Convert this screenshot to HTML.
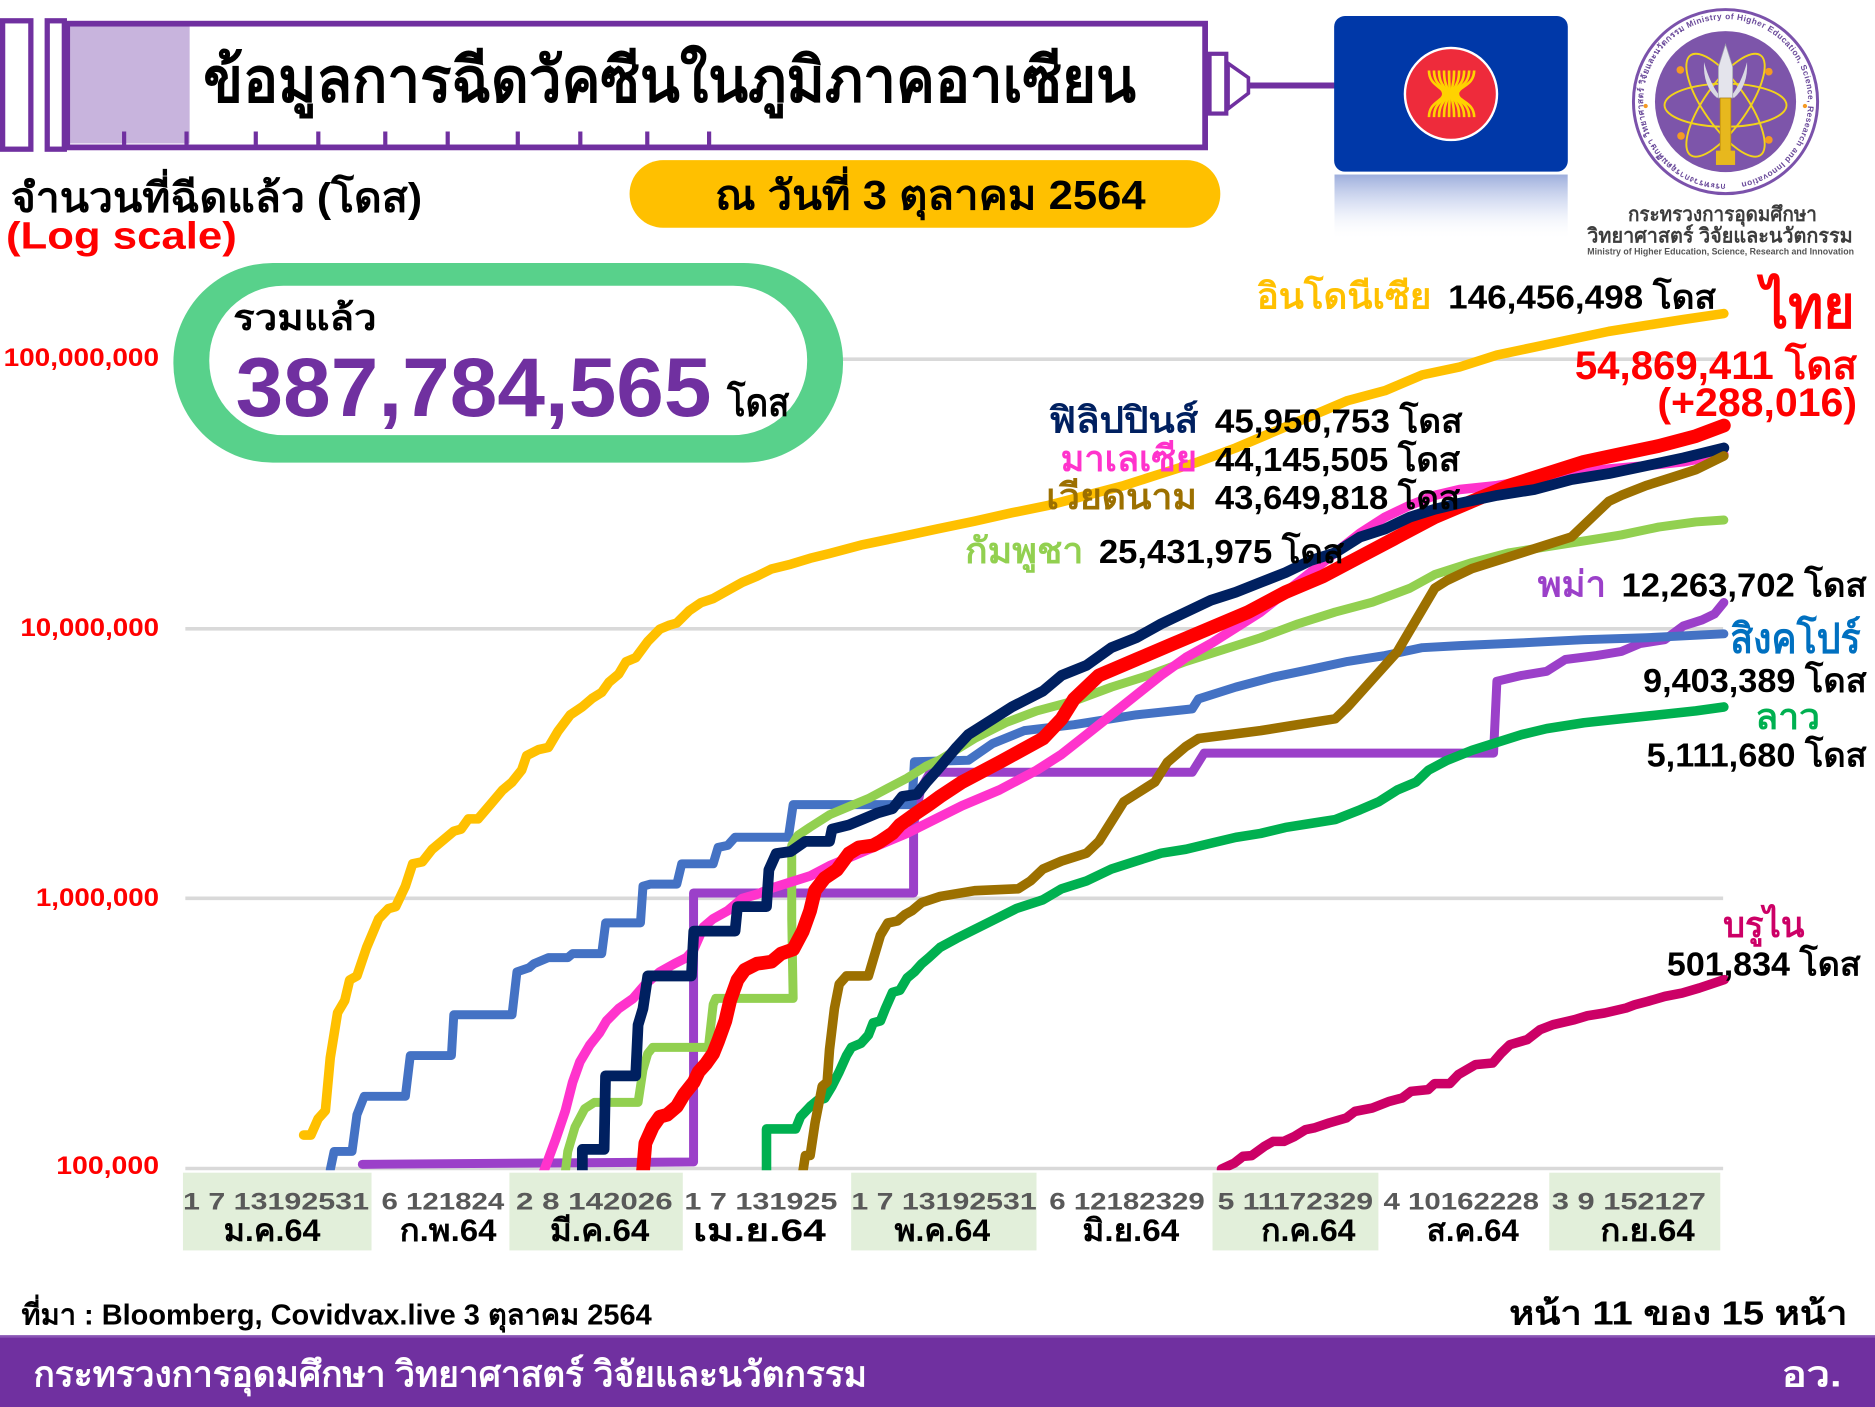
<!DOCTYPE html>
<html><head><meta charset="utf-8">
<style>
html,body{margin:0;padding:0;background:#fff;width:1875px;height:1407px;overflow:hidden}
svg{display:block}
text{font-family:"Liberation Sans","DejaVu Sans","Noto Sans CJK SC",sans-serif;font-weight:bold}
</style></head>
<body>
<svg width="1875" height="1407" viewBox="0 0 1568 1177" preserveAspectRatio="none" xmlns="http://www.w3.org/2000/svg">
<defs>
<linearGradient id="refl" x1="0" y1="0" x2="0" y2="1">
<stop offset="0" stop-color="#7d93d0" stop-opacity="0.75"/>
<stop offset="0.5" stop-color="#c5d0ee" stop-opacity="0.5"/>
<stop offset="1" stop-color="#ffffff" stop-opacity="0"/>
</linearGradient>
<clipPath id="plot"><rect x="150" y="200" width="1300" height="779"/></clipPath>
<path id="ring" d="M1443,154 A69,69 0 1,1 1443.1,154"/>
</defs>
<rect x="0" y="0" width="1568" height="1177" fill="#fff"/>

<!-- Syringe header -->
<rect x="56" y="22" width="102.6" height="98" fill="#c8b4dd"/>
<rect x="2.2" y="17.4" width="23.6" height="107.4" fill="none" stroke="#7030a0" stroke-width="4.4"/>
<rect x="39.5" y="17.4" width="14.3" height="107.4" fill="none" stroke="#7030a0" stroke-width="4.4"/>
<rect x="56.2" y="19.8" width="951.6" height="103.5" fill="none" stroke="#7030a0" stroke-width="4.8"/>
<g stroke="#7030a0" stroke-width="3.5">
<line x1="103.8" y1="110" x2="103.8" y2="121"/><line x1="156" y1="110" x2="156" y2="121"/>
<line x1="213.9" y1="110" x2="213.9" y2="121"/><line x1="266.2" y1="110" x2="266.2" y2="121"/>
<line x1="322.2" y1="110" x2="322.2" y2="121"/><line x1="374.4" y1="110" x2="374.4" y2="121"/>
<line x1="433" y1="110" x2="433" y2="121"/><line x1="485.3" y1="110" x2="485.3" y2="121"/>
<line x1="541.3" y1="110" x2="541.3" y2="121"/><line x1="593" y1="110" x2="593" y2="121"/>
</g>
<rect x="1011.5" y="45" width="14" height="50" fill="#fff" stroke="#7030a0" stroke-width="3.5"/>
<polygon points="1027,53 1044,65 1044,78 1027,91" fill="#fff" stroke="#7030a0" stroke-width="3"/>
<line x1="1044" y1="71.5" x2="1117" y2="71.5" stroke="#7030a0" stroke-width="5"/>
<text x="170" y="85" font-size="52" fill="#000" textLength="780" lengthAdjust="spacingAndGlyphs">ข้อมูลการฉีดวัคซีนในภูมิภาคอาเซียน</text>

<!-- ASEAN flag -->
<rect x="1116" y="146" width="195" height="55" fill="url(#refl)"/>
<rect x="1115.7" y="13.4" width="195.4" height="130.2" rx="9" fill="#0038a8"/>
<circle cx="1213.4" cy="78.6" r="38.5" fill="#ee2b3b" stroke="#fff" stroke-width="2"/>
<g fill="none" stroke="#ffd200" stroke-width="2.2">
<path d="M1195,59 C1195,72 1207,72 1207,78.5 C1207,85 1195,85 1195,98"/>
<path d="M1199.2,59 C1199.2,72 1208.4,72 1208.4,78.5 C1208.4,85 1199.2,85 1199.2,98"/>
<path d="M1203.4,59 C1203.4,72 1209.7,72 1209.7,78.5 C1209.7,85 1203.4,85 1203.4,98"/>
<path d="M1207.6,59 C1207.6,72 1211.1,72 1211.1,78.5 C1211.1,85 1207.6,85 1207.6,98"/>
<path d="M1211.8,59 C1211.8,72 1212.4,72 1212.4,78.5 C1212.4,85 1211.8,85 1211.8,98"/>
<path d="M1216,59 C1216,72 1213.8,72 1213.8,78.5 C1213.8,85 1216,85 1216,98"/>
<path d="M1220.2,59 C1220.2,72 1215.1,72 1215.1,78.5 C1215.1,85 1220.2,85 1220.2,98"/>
<path d="M1224.4,59 C1224.4,72 1216.5,72 1216.5,78.5 C1216.5,85 1224.4,85 1224.4,98"/>
<path d="M1228.6,59 C1228.6,72 1217.8,72 1217.8,78.5 C1217.8,85 1228.6,85 1228.6,98"/>
<path d="M1232.8,59 C1232.8,72 1219.2,72 1219.2,78.5 C1219.2,85 1232.8,85 1232.8,98"/>
</g>

<!-- Ministry logo -->
<circle cx="1443" cy="85" r="77" fill="#fff" stroke="#7b52ab" stroke-width="2.5"/>
<text font-size="7" fill="#6a4a9a" font-weight="normal"><textPath href="#ring" textLength="420">กระทรวงการอุดมศึกษา วิทยาศาสตร์ วิจัยและนวัตกรรม Ministry of Higher Education, Science, Research and Innovation</textPath></text>
<circle cx="1443" cy="85" r="59" fill="#7d55aa"/>
<g fill="none" stroke="#f2d31b" stroke-width="1.6">
<ellipse cx="1443" cy="88" rx="51" ry="18"/>
<ellipse cx="1443" cy="88" rx="51" ry="18" transform="rotate(55 1443 88)"/>
<ellipse cx="1443" cy="88" rx="51" ry="18" transform="rotate(-55 1443 88)"/>
</g>
<g fill="#f59a23">
<circle cx="1405.2" cy="58.5" r="3.2"/><circle cx="1479.2" cy="60" r="3.2"/>
<circle cx="1405.8" cy="113.7" r="3.2"/><circle cx="1479.2" cy="117" r="3.2"/>
<circle cx="1376.2" cy="88.7" r="1.8"/><circle cx="1509.4" cy="88.7" r="1.8"/>
</g>
<path d="M1425,52 Q1424,72 1436,82 L1438,80 Q1430,70 1425,52 Z" fill="#d9d9e3"/>
<path d="M1461,52 Q1462,72 1450,82 L1448,80 Q1456,70 1461,52 Z" fill="#d9d9e3"/>
<polygon points="1443,37 1449,56 1449,82 1437,82 1437,56" fill="#e4e4ec" stroke="#9a9aaa" stroke-width="0.6"/>
<rect x="1438.5" y="82" width="9" height="52" fill="#e7b81e" stroke="#b8860b" stroke-width="0.6"/>
<rect x="1435" y="126" width="16" height="12" fill="#e7b81e"/>
<text x="1361.4" y="185" font-size="17" fill="#3d3d3d" font-weight="normal" textLength="158" lengthAdjust="spacingAndGlyphs">กระทรวงการอุดมศึกษา</text>
<text x="1327.4" y="203" font-size="17" fill="#3d3d3d" font-weight="normal" textLength="222" lengthAdjust="spacingAndGlyphs">วิทยาศาสตร์ วิจัยและนวัตกรรม</text>
<text x="1327.4" y="213" font-size="8" fill="#555" font-weight="normal" textLength="223" lengthAdjust="spacingAndGlyphs">Ministry of Higher Education, Science, Research and Innovation</text>

<!-- Headings -->
<text x="9" y="177" font-size="34" fill="#000" textLength="344" lengthAdjust="spacingAndGlyphs">จำนวนที่ฉีดแล้ว (โดส)</text>
<text x="5" y="208" font-size="32" fill="#ff0000" textLength="193" lengthAdjust="spacingAndGlyphs">(Log scale)</text>
<rect x="526.5" y="134" width="494" height="56.5" rx="28" fill="#ffc000"/>
<text x="598" y="175" font-size="34" fill="#000" textLength="360" lengthAdjust="spacingAndGlyphs">ณ วันที่ 3 ตุลาคม 2564</text>

<!-- Gridlines -->
<g stroke="#d9d9d9" stroke-width="3">
<line x1="155" y1="300.5" x2="1441" y2="300.5"/>
<line x1="155" y1="526" x2="1441" y2="526"/>
<line x1="155" y1="751.5" x2="1441" y2="751.5"/>
<line x1="155" y1="977.5" x2="1441" y2="977.5"/>
</g>

<!-- Total pill -->
<rect x="145" y="220" width="560" height="167" rx="83" fill="#58d18b"/>
<rect x="175" y="239" width="500" height="125" rx="62" fill="#fff"/>
<text x="195" y="276" font-size="30" fill="#000" textLength="120" lengthAdjust="spacingAndGlyphs">รวมแล้ว</text>
<text x="197" y="348" font-size="70" fill="#7030a0" textLength="398" lengthAdjust="spacingAndGlyphs">387,784,565</text>
<text x="608" y="348" font-size="32" fill="#000" textLength="52" lengthAdjust="spacingAndGlyphs">โดส</text>

<!-- Y labels -->
<g fill="#ff0000" font-size="21" font-weight="normal">
<text x="3" y="306" textLength="130" lengthAdjust="spacingAndGlyphs">100,000,000</text>
<text x="17" y="532" textLength="116" lengthAdjust="spacingAndGlyphs">10,000,000</text>
<text x="30" y="758" textLength="103" lengthAdjust="spacingAndGlyphs">1,000,000</text>
<text x="47" y="982" textLength="86" lengthAdjust="spacingAndGlyphs">100,000</text>
</g>

<!-- X axis bands -->
<g fill="#e2efda">
<rect x="153" y="981" width="157.7" height="65"/>
<rect x="426" y="981" width="145" height="65"/>
<rect x="711.8" y="981" width="155" height="65"/>
<rect x="1014" y="981" width="138.7" height="65"/>
<rect x="1295.6" y="981" width="143" height="65"/>
</g>
<g fill="#595959" font-size="20">
<text x="153" y="1012" textLength="155.6" lengthAdjust="spacingAndGlyphs">1  7 13192531</text>
<text x="319" y="1012" textLength="102.7" lengthAdjust="spacingAndGlyphs">6 121824</text>
<text x="431.5" y="1012" textLength="131" lengthAdjust="spacingAndGlyphs">2  8 142026</text>
<text x="572.3" y="1012" textLength="128" lengthAdjust="spacingAndGlyphs">1  7 131925</text>
<text x="712" y="1012" textLength="155" lengthAdjust="spacingAndGlyphs">1  7 13192531</text>
<text x="877.5" y="1012" textLength="130" lengthAdjust="spacingAndGlyphs">6 12182329</text>
<text x="1018.3" y="1012" textLength="130" lengthAdjust="spacingAndGlyphs">5 11172329</text>
<text x="1157" y="1012" textLength="130" lengthAdjust="spacingAndGlyphs">4 10162228</text>
<text x="1297.8" y="1012" textLength="128.8" lengthAdjust="spacingAndGlyphs">3  9 152127</text>
</g>
<g fill="#000" font-size="26">
<text x="187" y="1038" textLength="81" lengthAdjust="spacingAndGlyphs">ม.ค.64</text>
<text x="334.2" y="1038" textLength="81" lengthAdjust="spacingAndGlyphs">ก.พ.64</text>
<text x="460" y="1038" textLength="83" lengthAdjust="spacingAndGlyphs">มี.ค.64</text>
<text x="579.6" y="1038" textLength="111" lengthAdjust="spacingAndGlyphs">เม.ย.64</text>
<text x="748" y="1038" textLength="80" lengthAdjust="spacingAndGlyphs">พ.ค.64</text>
<text x="905.2" y="1038" textLength="81" lengthAdjust="spacingAndGlyphs">มิ.ย.64</text>
<text x="1054.6" y="1038" textLength="79" lengthAdjust="spacingAndGlyphs">ก.ค.64</text>
<text x="1193.2" y="1038" textLength="77" lengthAdjust="spacingAndGlyphs">ส.ค.64</text>
<text x="1338.3" y="1038" textLength="79" lengthAdjust="spacingAndGlyphs">ก.ย.64</text>
</g>

<!-- Series -->
<g clip-path="url(#plot)" fill="none" stroke-linejoin="round" stroke-linecap="round">
<polyline stroke="#9b40c9" stroke-width="7.5" points="303,974 578,972 580,972 580,747 764,747 764,690 770,660 778,646 997,646 1007,630 1249,630 1251.8,569.9 1272.6,565 1293.4,561.6 1309,551.7 1335,548.4 1355.8,545 1371.4,538.4 1392.2,535.1 1407.8,523.6 1423.4,518.6 1433.8,513.6 1441.6,504"/>
<polyline stroke="#4472c4" stroke-width="7.5" points="276.2,979 276.2,978.5 279.4,963.2 294.4,963.2 298.5,932.5 304.6,917.1 339,917.1 343.1,883 377.5,883 379.5,848.9 428.2,848.9 432.3,813 442.4,809.6 446.4,806.2 458.6,801.1 474.8,801.1 478.9,797.7 503.2,797.7 506.5,772 535.6,772 537.7,741.3 543.7,739.6 566,739.6 570.1,722.6 596.4,722.6 600.5,708.9 608.6,707.2 614.7,700.4 659.3,700.4 663.3,673.1 762.7,673.1 764.7,637.2 809.8,636 830,622 856.6,611.2 898.2,606.2 950.2,598 997,593 1002.2,584.7 1033.4,574.8 1064.6,566.5 1095.8,560 1127,553.3 1158.2,548.4 1189.4,541.8 1220.6,540.1 1272.6,537.8 1324.6,535.1 1376.6,533.5 1441.6,530.2"/>
<polyline stroke="#92d050" stroke-width="7.5" points="472.8,980.3 474.8,963.2 480.9,942.7 489,927.4 497.1,922.2 533.6,922.2 537.7,895 541.7,881.3 545.8,876.2 592.4,876.2 596.4,840.3 598.5,835.2 663.3,835.2 662.1,768.6 662.1,707.2 667.4,698.7 677.5,691.9 693.7,681.6 709.9,674.8 726.2,668 742.4,659.4 758.6,650.9 774.8,640.7 786.2,635.5 815,617.8 841,604.6 867,594.7 898.2,586.4 929.4,574.8 960.6,564.9 991.8,553.3 1023,543.4 1054.2,533.5 1085.4,521.9 1116.6,512 1147.8,503.7 1179,492.1 1199.8,480.6 1231,470.6 1262.2,462.4 1293.4,457.4 1324.6,452.5 1355.8,447.5 1387,440.9 1418.2,436.6 1441.6,435"/>
<polyline stroke="#00b050" stroke-width="8" points="641,980.3 641,944.4 665.3,944.4 669.4,934.2 677.5,925.6 683.6,920.5 689.7,918.8 695.8,908.6 701.8,896.6 707.9,883 712,876.2 720.1,872.7 726.2,865.9 730.2,855.7 736.3,854 740.4,843.7 746.4,830.1 752.5,828.4 758.6,818.1 764.7,813 770.8,806.2 776.8,801.1 786.2,792.5 800,785 830,770 850,760 872.2,752.7 887.8,743.5 908.6,736.9 929.4,727 950.2,720.3 971,713.7 991.8,710.4 1012.6,705.4 1033.4,700.5 1054.2,697.2 1075,692.2 1095.8,688.9 1116.6,685.6 1137.4,677.4 1153,670.7 1168.6,660.8 1184.2,654.2 1194.6,644.3 1210.2,636 1231,627.7 1251.8,621.1 1272.6,614.5 1293.4,609.5 1324.6,604.6 1355.8,601.3 1387,598 1418.2,594.7 1441.6,591.4"/>
<polyline stroke="#ff33cc" stroke-width="8" points="454.6,980.3 464.7,953 472.8,929.1 478.9,905.2 485,888.1 493.1,874.4 501.2,864.2 507.2,854 517.4,843.7 529.5,835.2 539.7,823.3 551.8,813 564,806.2 574.1,801.1 580.2,794.2 588.3,775.5 596.4,768.6 608.6,761.8 620.8,751.6 632.9,748.2 645.1,743 661.3,737.9 677.5,732.8 693.7,724.3 709.9,717.5 726.2,710.6 742.4,703.8 758.6,697 768.2,692.2 804.6,674 835.8,660.8 867,644.3 887.8,631 908.6,614.5 929.4,598 950.2,581.4 971,564.9 991.8,550 1012.6,538.4 1033.4,525.2 1054.2,512 1075,495.4 1095.8,479 1116.6,462.4 1137.4,446 1158.2,432.6 1179,422.7 1199.8,414.4 1220.6,409.5 1251.8,406.2 1283,401.2 1314.2,396.2 1345.4,392.3 1376.6,389.6 1407.8,386.3 1441.6,380"/>
<polyline stroke="#ff0000" stroke-width="11.5" points="537.7,980.3 539.7,956.4 545.8,942.7 551.8,934.2 557.9,932.5 566,925.6 572.1,915.4 580.2,905.2 584.3,896.6 590.4,889.8 596.4,881.3 600.5,871 606.6,854 610.6,836.9 616.7,819.8 622.8,811.3 632.9,806.2 645.1,804.5 653.2,797.7 663.3,794.2 671.4,778.9 677.5,761.8 681.6,744.8 689.7,734.5 699.8,727.7 709.9,714 718.1,708.9 730.2,707.2 736.3,703.8 746.4,697 752.6,690 766.7,679.9 776.8,673.1 786.2,666.3 804.6,654.2 835.8,637.7 872.2,617.8 887.8,601.3 898.2,584.7 919,565 950.2,551.7 981.4,538.4 1012.6,525.2 1043.8,512 1075,495.4 1106.2,482.2 1137.4,465.7 1168.6,449.2 1199.8,432.6 1231,419.4 1262.2,406.2 1293.4,396.2 1324.6,386.3 1355.8,379.7 1387,373.1 1418.2,364.8 1441.6,356"/>
<polyline stroke="#002060" stroke-width="9" points="487,980 487,961.5 505.2,961.5 506.4,900 531.6,900 533.6,857.4 537.7,843.7 541.7,816.4 578.2,816.4 580.2,778.9 614.7,778.9 616.7,758.4 641,758.4 643,727.7 649.1,714 661.3,712.3 673.5,703.8 693.7,703.8 695.8,693.6 709.9,690.1 722.1,685 734.3,679.9 746.4,676.5 754.5,666.3 766.7,664.5 774.8,654.3 783.8,644.3 800,625 809.8,614.5 830.6,601.3 846.2,591.4 872.2,578.1 887.8,565 908.6,556.6 929.4,541.8 950.2,533.5 971,521.9 991.8,512 1012.6,502.1 1033.4,495.4 1054.2,487.2 1075,479 1095.8,469 1116.6,462.4 1137.4,449.2 1158.2,442.5 1179,432.6 1199.8,426 1220.6,421 1251.8,414.4 1283,409.5 1314.2,401.2 1345.4,396.2 1376.6,389.6 1407.8,383 1441.6,374.7"/>
<polyline stroke="#9c7000" stroke-width="8" points="671.4,980.3 673.5,966.6 677.5,966.6 681.6,939.3 687.6,908.6 691.7,905.2 693.7,877.9 697.8,843.7 701.8,823.3 707.9,816.4 726.2,816.4 730.2,802.8 736.3,782.3 742.4,772.1 750.5,770.4 756.6,765.2 762.7,761.8 770.8,755 786.2,749.9 815,745.1 851.4,743.5 861.8,736.9 872.2,727 887.8,720.3 908.6,713.7 919,703.8 929.4,687.3 939.8,670.7 950.2,664.1 965.8,654.2 976.2,637.7 991.8,624.4 1002.2,617.8 1028.2,614.5 1054.2,611.2 1085.4,606.2 1116.6,601.3 1127,591.4 1147.8,568.2 1168.6,545.1 1184.2,518.6 1199.8,492.1 1210.2,485.5 1231,475.6 1251.8,469 1272.6,462.4 1293.4,455.8 1314.2,449.2 1324.6,439.2 1335,429.3 1345.4,419.4 1355.8,414.4 1376.6,406.2 1397.4,399.6 1418.2,392.9 1441.6,381.4"/>
<polyline stroke="#cc0066" stroke-width="8" points="1021.5,978 1032.3,972.9 1039.5,967.3 1046.7,966.7 1057.5,958.9 1064.7,954.8 1073.7,954.8 1082.7,950.6 1091.7,945 1098.9,943.6 1111.5,939.4 1125.9,935.2 1133.1,929.7 1147.5,926.9 1161.9,921.3 1172.7,918.5 1179.9,913 1194.3,911.5 1199.7,906.5 1212.3,906.5 1219.5,899 1233.9,890.6 1248.3,889.2 1255.5,880.9 1262.7,873.9 1277.1,869.7 1287.9,861.4 1298.7,857.2 1316.7,853 1327.5,849.7 1341.9,847.4 1359.9,843.2 1367.1,840.5 1377.9,837.7 1392.3,833.5 1406.7,830.7 1421.1,826.5 1441.98,819.5"/>
<polyline stroke="#ffc000" stroke-width="8" points="253.9,949.5 260,949.5 266,935.9 272.1,929.1 276.2,884.7 282.3,847.2 288.3,837 292.4,819.8 298.5,816.4 306.6,792.5 316.7,768.6 324.8,760.1 330.9,758.4 339,741.3 345.1,722.6 353.2,720.9 361.3,710.6 371.4,702.1 379.5,695.3 385.6,693.6 391.7,685 399.8,685 410,673.1 420.1,661.1 428.2,654.3 436.3,644.1 440.4,632.1 450.5,627 458.6,625.3 466.7,611.6 476.9,598 487,591.2 495.1,584.3 503.2,579.2 509.3,570.7 517.4,563.9 523.5,553.6 531.6,550.2 541.7,536.6 551.8,526.3 560,522.9 566,521.2 576.2,511 586.3,504.1 596.4,500.7 608.6,493.9 620.8,487.1 633,482 645.1,476 661.3,472 677.5,467 693.7,463 720,456 752.6,449.2 783.8,442.5 815,436 846,429 877,422.7 908.6,414.4 939.8,406.2 971,396.2 1002.2,386.3 1033.4,374.7 1064.6,361.5 1095.8,348.3 1127,335.1 1158.2,326.8 1189.4,313.6 1220.6,307 1251.8,297 1283,290.4 1314.2,283.8 1345.4,277.2 1376.6,272.2 1407.8,267.3 1441.6,262.3"/>
</g>

<!-- Series labels -->
<text x="1051" y="258" font-size="30" fill="#ffc000" textLength="146" lengthAdjust="spacingAndGlyphs">อินโดนีเซีย</text>
<text x="1211" y="258" font-size="28" fill="#000" textLength="224" lengthAdjust="spacingAndGlyphs">146,456,498 โดส</text>
<text x="1473" y="274" font-size="50" fill="#ff0000" textLength="78" lengthAdjust="spacingAndGlyphs">ไทย</text>
<text x="1317" y="317" font-size="33" fill="#ff0000" textLength="236" lengthAdjust="spacingAndGlyphs">54,869,411 โดส</text>
<text x="1386" y="348" font-size="33" fill="#ff0000" textLength="167" lengthAdjust="spacingAndGlyphs">(+288,016)</text>
<text x="877" y="362" font-size="30" fill="#002060" textLength="125" lengthAdjust="spacingAndGlyphs">ฟิลิปปินส์</text>
<text x="1016" y="362" font-size="28" fill="#000" textLength="207" lengthAdjust="spacingAndGlyphs">45,950,753 โดส</text>
<text x="887" y="394" font-size="30" fill="#ff33cc" textLength="114" lengthAdjust="spacingAndGlyphs">มาเลเซีย</text>
<text x="1016" y="394" font-size="28" fill="#000" textLength="205" lengthAdjust="spacingAndGlyphs">44,145,505 โดส</text>
<text x="875" y="426" font-size="30" fill="#9c7000" textLength="126" lengthAdjust="spacingAndGlyphs">เวียดนาม</text>
<text x="1016" y="426" font-size="28" fill="#000" textLength="205" lengthAdjust="spacingAndGlyphs">43,649,818 โดส</text>
<text x="807" y="471" font-size="30" fill="#92d050" textLength="99" lengthAdjust="spacingAndGlyphs">กัมพูชา</text>
<text x="919" y="471" font-size="28" fill="#000" textLength="205" lengthAdjust="spacingAndGlyphs">25,431,975 โดส</text>
<text x="1286" y="499" font-size="30" fill="#9b40c9" textLength="57" lengthAdjust="spacingAndGlyphs">พม่า</text>
<text x="1356" y="499" font-size="28" fill="#000" textLength="205" lengthAdjust="spacingAndGlyphs">12,263,702 โดส</text>
<text x="1447" y="546" font-size="34" fill="#0070c0" textLength="109" lengthAdjust="spacingAndGlyphs">สิงคโปร์</text>
<text x="1374" y="579" font-size="28" fill="#000" textLength="187" lengthAdjust="spacingAndGlyphs">9,403,389 โดส</text>
<text x="1468" y="610" font-size="30" fill="#00b050" textLength="54" lengthAdjust="spacingAndGlyphs">ลาว</text>
<text x="1377" y="641" font-size="28" fill="#000" textLength="184" lengthAdjust="spacingAndGlyphs">5,111,680 โดส</text>
<text x="1441" y="784" font-size="30" fill="#cc0066" textLength="68" lengthAdjust="spacingAndGlyphs">บรูไน</text>
<text x="1394" y="816" font-size="28" fill="#000" textLength="162" lengthAdjust="spacingAndGlyphs">501,834 โดส</text>

<!-- Footer -->
<text x="18" y="1108" font-size="24" fill="#000" textLength="527" lengthAdjust="spacingAndGlyphs">ที่มา : Bloomberg, Covidvax.live 3 ตุลาคม 2564</text>
<text x="1262" y="1108" font-size="28" fill="#000" textLength="283" lengthAdjust="spacingAndGlyphs">หน้า 11 ของ 15 หน้า</text>
<rect x="0" y="1117" width="1568" height="60" fill="#7030a0"/>
<rect x="0" y="1117" width="1568" height="2" fill="#8a55b5"/>
<text x="28" y="1160" font-size="30" fill="#fff" textLength="697" lengthAdjust="spacingAndGlyphs">กระทรวงการอุดมศึกษา วิทยาศาสตร์ วิจัยและนวัตกรรม</text>
<text x="1490" y="1160" font-size="30" fill="#fff" textLength="50" lengthAdjust="spacingAndGlyphs">อว.</text>
</svg>
</body></html>
